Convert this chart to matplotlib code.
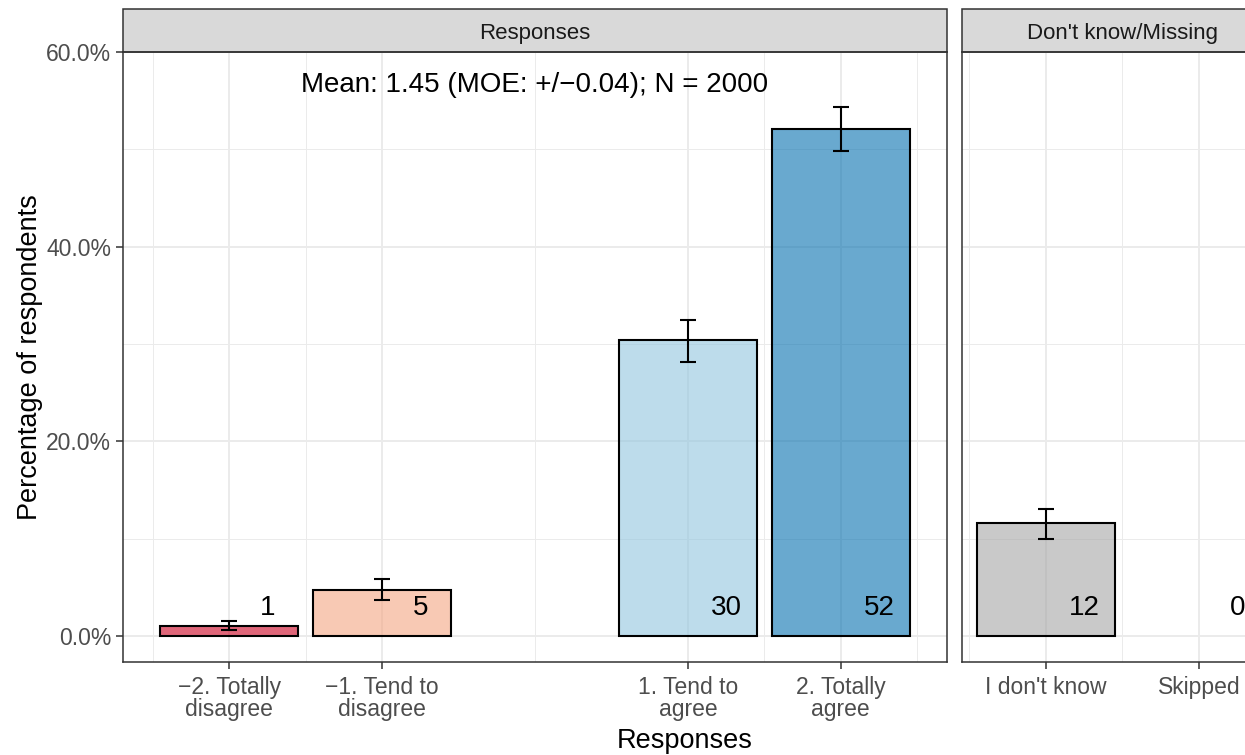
import numpy as np
import matplotlib.pyplot as plt
from matplotlib.patches import Rectangle

plt.rcParams['font.family'] = ['Liberation Sans', 'DejaVu Sans']

# Data
resp_x = [-2, -1, 1, 2]
resp_labels = ['\u22122. Totally\ndisagree', '\u22121. Tend to\ndisagree', '1. Tend to\nagree', '2. Totally\nagree']
resp_pct = [1.05, 4.75, 30.4, 52.1]
resp_lo = [0.6, 3.7, 28.2, 49.8]
resp_hi = [1.55, 5.85, 32.5, 54.4]
resp_n = ['1', '5', '30', '52']
resp_colors = ['#CA0020', '#F4A582', '#92C5DE', '#0571B0']

dk_x = [1, 2]
dk_labels = ["I don't know", 'Skipped']
dk_pct = [11.6, 0.0]
dk_lo = [10.0, np.nan]
dk_hi = [13.05, np.nan]
dk_n = ['12', '0']

mean_text = 'Mean: 1.45 (MOE: +/\u22120.04); N = 2000'

W, H = 1245, 755
fig = plt.figure(figsize=(W / 100, H / 100), dpi=100)

ppu = 153.5  # pixels per x unit
ax1 = fig.add_axes([123 / W, 93 / H, 824 / W, 610 / H])
ax2 = fig.add_axes([962 / W, 93 / H, 2.09 * ppu / W, 610 / H])

grid_c = '#EBEBEB'
edge_c = '#333333'
tick_c = '#4D4D4D'


def style(ax, xlim, majors, minors, title):
    ax.set_xlim(*xlim)
    ax.set_ylim(-2.67, 60)
    ax.set_xticks(majors)
    ax.set_xticks(minors, minor=True)
    ax.set_yticks([0, 20, 40, 60])
    ax.set_yticks([10, 30, 50], minor=True)
    ax.grid(True, which='major', color=grid_c, lw=1.4, zorder=0)
    ax.grid(True, which='minor', color=grid_c, lw=0.7, zorder=0)
    ax.set_axisbelow(True)
    for s in ax.spines.values():
        s.set_color(edge_c)
        s.set_linewidth(1.1)
    ax.tick_params(which='major', length=5, width=1.1, color=edge_c,
                   labelcolor=tick_c, labelsize=16.5)
    ax.tick_params(axis='x', pad=5)
    ax.tick_params(which='minor', length=0)
    strip = Rectangle((0, 1), 1, 43 / 610, transform=ax.transAxes,
                      facecolor='#D9D9D9', edgecolor=edge_c, lw=1.1, clip_on=False)
    ax.add_patch(strip)
    ax.text(0.5, 1 + 19 / 610, title, transform=ax.transAxes, ha='center',
            va='center', fontsize=16, color='#1A1A1A')


# Responses panel
ax1.bar(resp_x, resp_pct, width=0.9, color=resp_colors, alpha=0.6, zorder=2)
ax1.bar(resp_x, resp_pct, width=0.9, fill=False, edgecolor='black', linewidth=1.5, zorder=3)
ax1.errorbar(resp_x, resp_pct,
             yerr=[np.array(resp_pct) - np.array(resp_lo), np.array(resp_hi) - np.array(resp_pct)],
             fmt='none', ecolor='black', elinewidth=1.5, capsize=5.5, capthick=1.5, zorder=4)
for x, lab in zip(resp_x, resp_n):
    ax1.text(x + 0.25, 2.9, lab, ha='center', va='center', fontsize=20, zorder=5)
ax1.text(0, 56.6, mean_text, ha='center', va='center', fontsize=20)
style(ax1, (-2.695, 2.695), resp_x, [-2.5, -1.5, 0, 1.5, 2.5], 'Responses')
ax1.set_xticklabels(resp_labels, linespacing=0.95)
ax1.set_yticklabels(['0.0%', '20.0%', '40.0%', '60.0%'])

# Don't know / Missing panel
ax2.bar(dk_x, dk_pct, width=0.9, color='#A6A6A6', alpha=0.6, zorder=2)
ax2.bar(dk_x[:1], dk_pct[:1], width=0.9, fill=False, edgecolor='black', linewidth=1.5, zorder=3)
ax2.errorbar(dk_x, dk_pct,
             yerr=[np.array(dk_pct) - np.array(dk_lo), np.array(dk_hi) - np.array(dk_pct)],
             fmt='none', ecolor='black', elinewidth=1.5, capsize=5.5, capthick=1.5, zorder=4)
for x, lab in zip(dk_x, dk_n):
    ax2.text(x + 0.25, 2.9, lab, ha='center', va='center', fontsize=20, zorder=5)
style(ax2, (0.455, 2.545), dk_x, [0.5, 1.5, 2.5], "Don't know/Missing")
ax2.set_xticklabels(dk_labels)
ax2.tick_params(axis='y', left=False, labelleft=False)

fig.text(30 / W, 0.5 * (93 + 703) / H, 'Percentage of respondents', rotation=90,
         ha='center', va='center', fontsize=19.5)
fig.text(685 / W, 14 / H, 'Responses', ha='center', va='center', fontsize=19.5)

fig.savefig('out.png', dpi=100)
